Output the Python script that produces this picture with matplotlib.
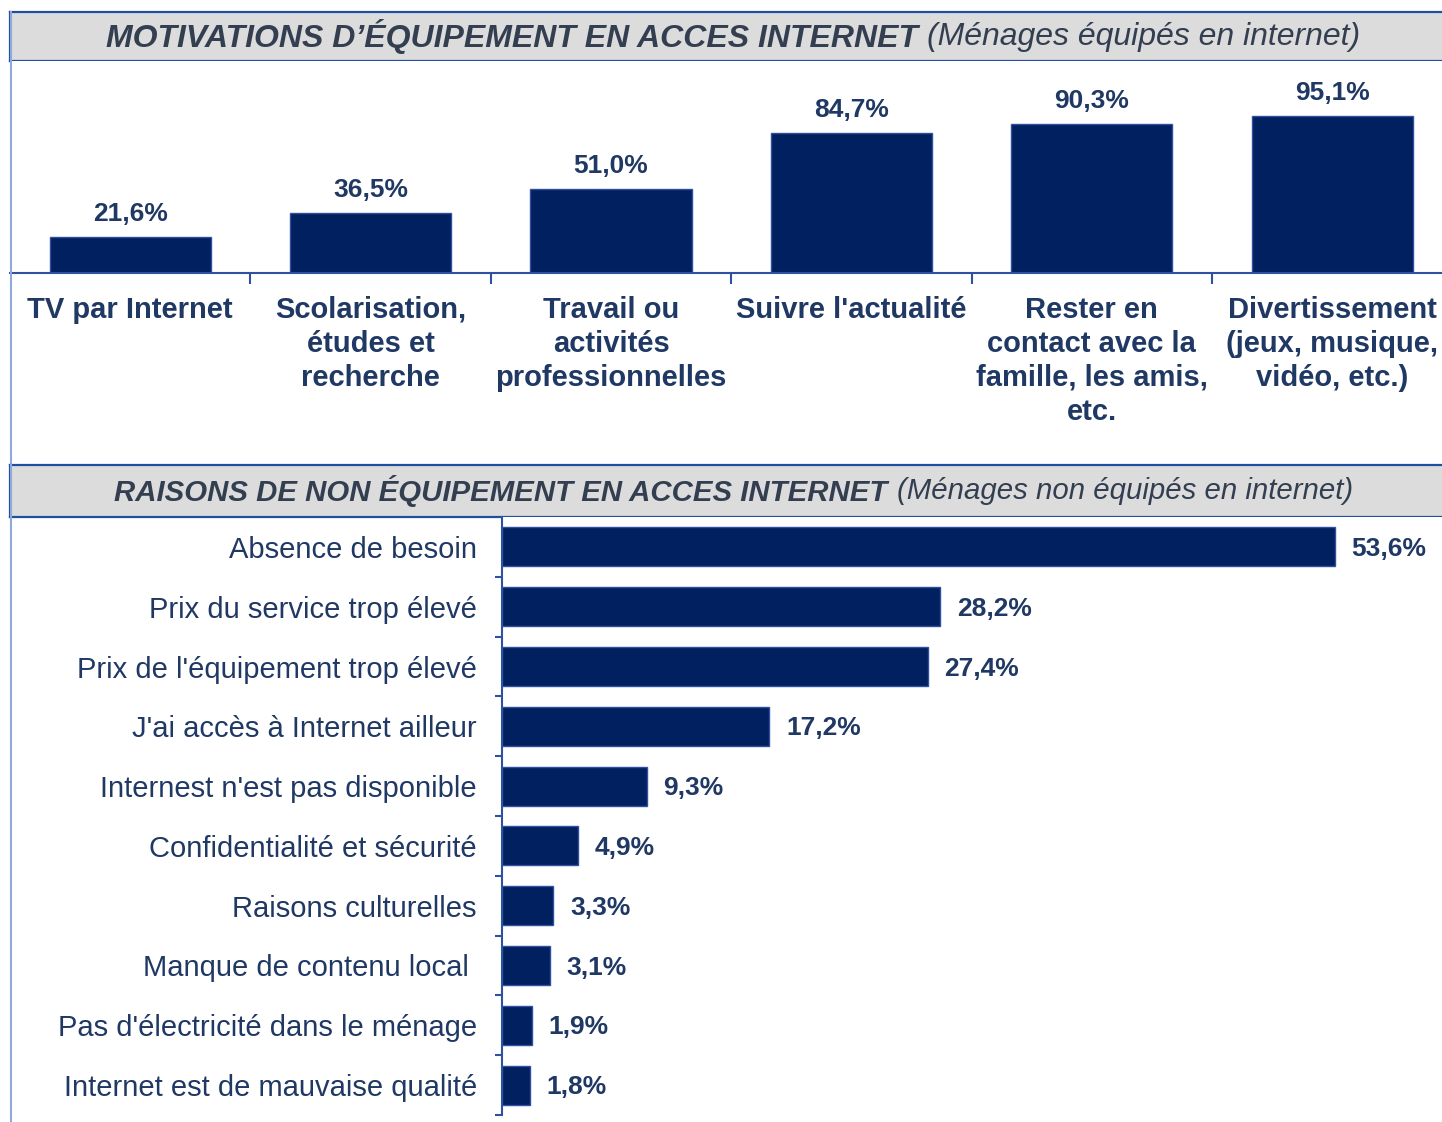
import matplotlib
matplotlib.use("Agg")
import matplotlib.pyplot as plt
from matplotlib.lines import Line2D

plt.rcParams['font.family'] = ['Liberation Sans', 'DejaVu Sans']

# data
motif_labels = ["TV par Internet",
                "Scolarisation,\nétudes et\nrecherche",
                "Travail ou\nactivités\nprofessionnelles",
                "Suivre l'actualité",
                "Rester en\ncontact avec la\nfamille, les amis,\netc.",
                "Divertissement\n(jeux, musique,\nvidéo, etc.)"]
motif_values = [21.6, 36.5, 51.0, 84.7, 90.3, 95.1]

raison_labels = ["Absence de besoin",
                 "Prix du service trop élevé",
                 "Prix de l'équipement trop élevé",
                 "J'ai accès à Internet ailleur",
                 "Internest n'est pas disponible",
                 "Confidentialité et sécurité",
                 "Raisons culturelles",
                 "Manque de contenu local ",
                 "Pas d'électricité dans le ménage",
                 "Internet est de mauvaise qualité"]
raison_values = [53.6, 28.2, 27.4, 17.2, 9.3, 4.9, 3.3, 3.1, 1.9, 1.8]

BAR = '#002060'
EDGE = '#2F4F9F'
TXT = '#1F3864'
TITLE = '#333F50'
AXC = '#2F52A0'
GRAY = '#DCDCDC'

W, H = 1442, 1122
fig = plt.figure(figsize=(W / 100, H / 100), dpi=100)


def box(x0, y0, x1, y1):
    return [x0 / W, 1 - y1 / H, (x1 - x0) / W, (y1 - y0) / H]


def fmt(v):
    return f"{v:.1f}".replace('.', ',') + '%'


# left frame line
fig.add_artist(Line2D([11 / W, 11 / W], [0, 1 - 12 / H], transform=fig.transFigure,
                      color='#8EA9DB', lw=1.5))

# headers
for (y0, y1, bold, rest, xb, xr, fs) in [
        (12, 61, "MOTIVATIONS D’ÉQUIPEMENT EN ACCES INTERNET", "(Ménages équipés en internet)", 918, 927, 23),
        (465, 517, "RAISONS DE NON ÉQUIPEMENT EN ACCES INTERNET", "(Ménages non équipés en internet)", 887, 897, 21.2)]:
    hx = fig.add_axes(box(10, y0, 1460, y1))
    hx.set_facecolor(GRAY)
    hx.set_xticks([])
    hx.set_yticks([])
    for s in hx.spines.values():
        s.set_color('#1F4FA0')
        s.set_linewidth(1.6)
    yc = 1 - (y0 + y1) / 2 / H
    fig.text(xb / W, yc, bold, ha='right', va='center', fontsize=fs,
             fontweight='bold', fontstyle='italic', color=TITLE)
    fig.text(xr / W, yc, rest, ha='left', va='center', fontsize=fs,
             fontstyle='italic', color=TITLE)

# top chart: vertical bars
ax1 = fig.add_axes(box(10, 61, 1442, 273))
x = list(range(len(motif_values)))
ax1.bar(x, motif_values, width=0.67, color=BAR, edgecolor=EDGE, linewidth=1)
ax1.set_xlim(-0.5, -0.5 + 1432 / 240.4)
ax1.set_ylim(0, 128.4)
for s in ['top', 'right', 'left']:
    ax1.spines[s].set_visible(False)
ax1.spines['bottom'].set_color(AXC)
ax1.spines['bottom'].set_linewidth(1.5)
ax1.set_yticks([])
ax1.set_xticks(x)
ax1.set_xticklabels(motif_labels, fontsize=21, fontweight='bold', color=TXT,
                    linespacing=1.27, va='top')
ax1.tick_params(axis='x', which='major', length=0, pad=16.5)
ax1.set_xticks([i + 0.5 for i in x[:-1]], minor=True)
ax1.tick_params(axis='x', which='minor', length=8, width=1.5, color=AXC, direction='out')
for xi, v in zip(x, motif_values):
    ax1.annotate(fmt(v), (xi, v), xytext=(0, 8), textcoords='offset points',
                 ha='center', va='bottom', fontsize=19, fontweight='bold', color=TXT)

# bottom chart: horizontal bars
ax2 = fig.add_axes(box(502, 517, 1442, 1115))
y = list(range(len(raison_values)))
ax2.barh(y, raison_values, height=0.65, color=BAR, edgecolor=EDGE, linewidth=1)
ax2.set_ylim(len(y) - 0.5, -0.5)
ax2.set_xlim(0, 940 / 15.54)
for s in ['top', 'right', 'bottom']:
    ax2.spines[s].set_visible(False)
ax2.spines['left'].set_color(AXC)
ax2.spines['left'].set_linewidth(1.5)
ax2.set_xticks([])
ax2.set_yticks(y)
ax2.set_yticklabels(raison_labels, fontsize=21, color=TXT)
ax2.tick_params(axis='y', which='major', length=0, pad=18)
ax2.set_yticks([i + 0.5 for i in y], minor=True)
ax2.tick_params(axis='y', which='minor', length=5, width=1.5, color=AXC, direction='out')
for yi, v in zip(y, raison_values):
    ax2.annotate(fmt(v), (v, yi), xytext=(12, -1.5), textcoords='offset points',
                 ha='left', va='center', fontsize=19, fontweight='bold', color=TXT)

fig.savefig('out.png', dpi=100, facecolor='white')
